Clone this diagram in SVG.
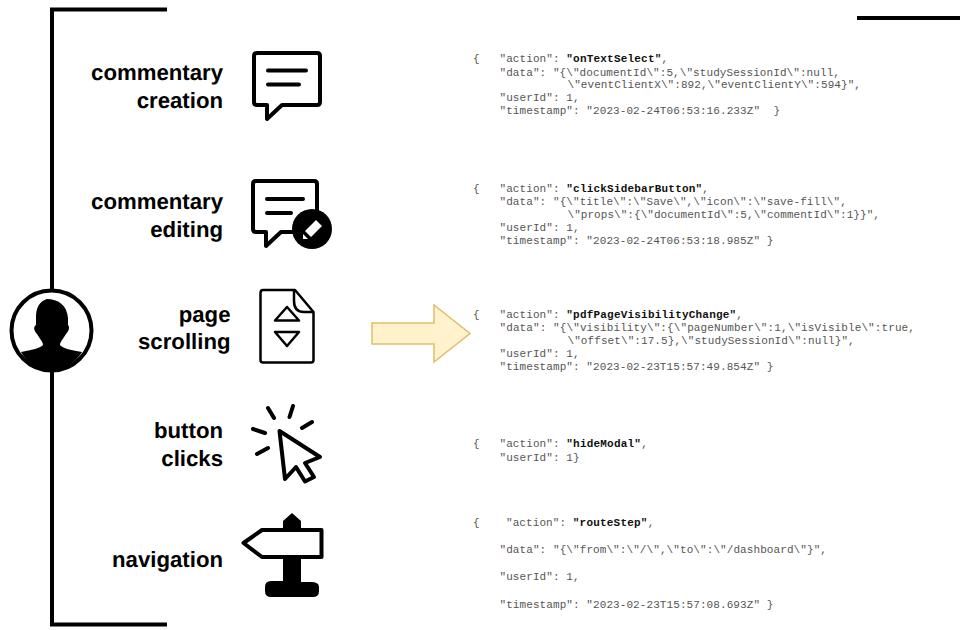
<svg xmlns="http://www.w3.org/2000/svg" width="960" height="630" viewBox="0 0 960 630">
<style>
.l{font:bold 22.2px "Liberation Sans",Arial,sans-serif;fill:#000;text-anchor:end;text-rendering:geometricPrecision}
.c{font:11px "Liberation Mono","Courier New",monospace;fill:#555;white-space:pre;letter-spacing:.08px}
.b{font-weight:bold;fill:#111;letter-spacing:.2px}
.s{fill:none;stroke:#000;stroke-width:4;stroke-linejoin:round;stroke-linecap:round}
.k{fill:#000}
</style>
<rect width="960" height="630" fill="#fff"/>
<g id="connectors">
<path d="M167 9.500H52V624.500H167" fill="none" stroke="#000" stroke-width="4"/>
<path d="M857 18H960" fill="none" stroke="#000" stroke-width="4"/>
<path id="arrow" d="M372 323H434V305L470 333.500L434 362V344H372Z" fill="#fff2cc" stroke="#dfbf66" stroke-width="1.500"/>
</g>
<g id="user">
<circle cx="51.500" cy="330.500" r="40" fill="#fff" stroke="#000" stroke-width="4"/>
<path class="k" d="M47 299C58 299 67 305 68 318V325C70 327 69 331 66 334C63 339 60 342 60 345C62 348 70 350 82 352C75 363 63 370 51.500 370C39 370 27 363 21 352C31 350 41 348 43 345C43 342 40 339 37 334C34 331 33 327 36 325V317C36 307 40 301 47 299Z"/>
</g>
<g id="commentary-creation">
<text class="l" x="223" y="80">commentary</text>
<text class="l" x="223" y="108">creation</text>
<path class="s" d="M257 53H317Q320 53 320 56V102Q320 105 317 105H282L267 119V105H257Q254 105 254 102V56Q254 53 257 53Z"/>
<path class="s" d="M268 70.500H306M268 84.500H299"/>
</g>
<g id="commentary-editing">
<text class="l" x="223" y="209">commentary</text>
<text class="l" x="223" y="237">editing</text>
<path class="s" d="M256 181H314Q317 181 317 184V232H281L266 246V232H256Q253 232 253 229V184Q253 181 256 181Z"/>
<path class="s" d="M267 199H303M267 213H291"/>
<circle class="k" cx="312" cy="229" r="20"/>
<path d="M316 220L322 226L311 237L305 231ZM303 234L308 239L303 239Z" fill="#fff"/>
</g>
<g id="page-scrolling">
<text class="l" x="230.500" y="322">page</text>
<text class="l" x="230.500" y="349">scrolling</text>
<path d="M295 290H263Q260.500 290 260.500 293V360Q260.500 362.500 263 362.500H311Q313.500 362.500 313.500 360V312Z" fill="none" stroke="#000" stroke-width="2.500" stroke-linejoin="round"/>
<path d="M294 290V301Q294 312 304 312H313.500" fill="none" stroke="#000" stroke-width="2.500"/>
<path d="M287 307L299 320.500H275ZM275 332H299L287 346Z" fill="none" stroke="#000" stroke-width="2.500" stroke-linejoin="round"/>
</g>
<g id="button-clicks">
<text class="l" x="223" y="438">button</text>
<text class="l" x="223" y="466">clicks</text>
<path class="s" d="M279.500 431L320 457L305 463L314 477L305 481.500L296 467L285 479Z"/>
<path class="s" d="M268 408L274 418M293 406L289.500 417M312 422L302 428M253 429L265 433M257 454L268 448"/>
</g>
<g id="navigation">
<text class="l" x="223" y="567">navigation</text>
<path class="k" d="M283 531V521L292 513L301 521V531ZM283 556H301V582H311Q319 582 319 587V591Q319 597 313 597H271Q265 597 265 591V587Q265 581 271 581H283Z"/>
<path d="M243.500 543L262 530H321.500V557H262Z" fill="#fff" stroke="#000" stroke-width="4" stroke-linejoin="round"/>
</g>
<g id="log-1">
<text class="c" x="473" y="62">{</text>
<text class="c" x="499.500" y="62">"action": <tspan class="b">"onTextSelect"</tspan>,</text>
<text class="c" x="499.500" y="75.500" textLength="340.500">"data": "{\"documentId\":5,\"studySessionId\":null,</text>
<text class="c" x="567.500" y="87.500" textLength="293.500">\"eventClientX\":892,\"eventClientY\":594}",</text>
<text class="c" x="499.500" y="101">"userId": 1,</text>
<text class="c" x="499.500" y="114">"timestamp": "2023-02-24T06:53:16.233Z"  }</text>
</g>
<g id="log-2">
<text class="c" x="473" y="192">{</text>
<text class="c" x="499.500" y="192">"action": <tspan class="b">"clickSidebarButton"</tspan>,</text>
<text class="c" x="499.500" y="205">"data": "{\"title\":\"Save\",\"icon\":\"save-fill\",</text>
<text class="c" x="567.500" y="218" textLength="312.500">\"props\":{\"documentId\":5,\"commentId\":1}}",</text>
<text class="c" x="499.500" y="231">"userId": 1,</text>
<text class="c" x="499.500" y="244">"timestamp": "2023-02-24T06:53:18.985Z" }</text>
</g>
<g id="log-3">
<text class="c" x="473" y="318">{</text>
<text class="c" x="499.500" y="318">"action": <tspan class="b">"pdfPageVisibilityChange"</tspan>,</text>
<text class="c" x="499.500" y="331" textLength="415.500">"data": "{\"visibility\":{\"pageNumber\":1,\"isVisible\":true,</text>
<text class="c" x="567.500" y="344">\"offset\":17.5},\"studySessionId\":null}",</text>
<text class="c" x="499.500" y="357">"userId": 1,</text>
<text class="c" x="499.500" y="370">"timestamp": "2023-02-23T15:57:49.854Z" }</text>
</g>
<g id="log-4">
<text class="c" x="473" y="447">{</text>
<text class="c" x="499.500" y="447">"action": <tspan class="b">"hideModal"</tspan>,</text>
<text class="c" x="499.500" y="461">"userId": 1}</text>
</g>
<g id="log-5">
<text class="c" x="473" y="526">{</text>
<text class="c" x="506" y="526">"action": <tspan class="b">"routeStep"</tspan>,</text>
<text class="c" x="499.500" y="553" textLength="327.500">"data": "{\"from\":\"/\",\"to\":\"/dashboard\"}",</text>
<text class="c" x="499.500" y="580">"userId": 1,</text>
<text class="c" x="499.500" y="608">"timestamp": "2023-02-23T15:57:08.693Z" }</text>
</g>
</svg>
